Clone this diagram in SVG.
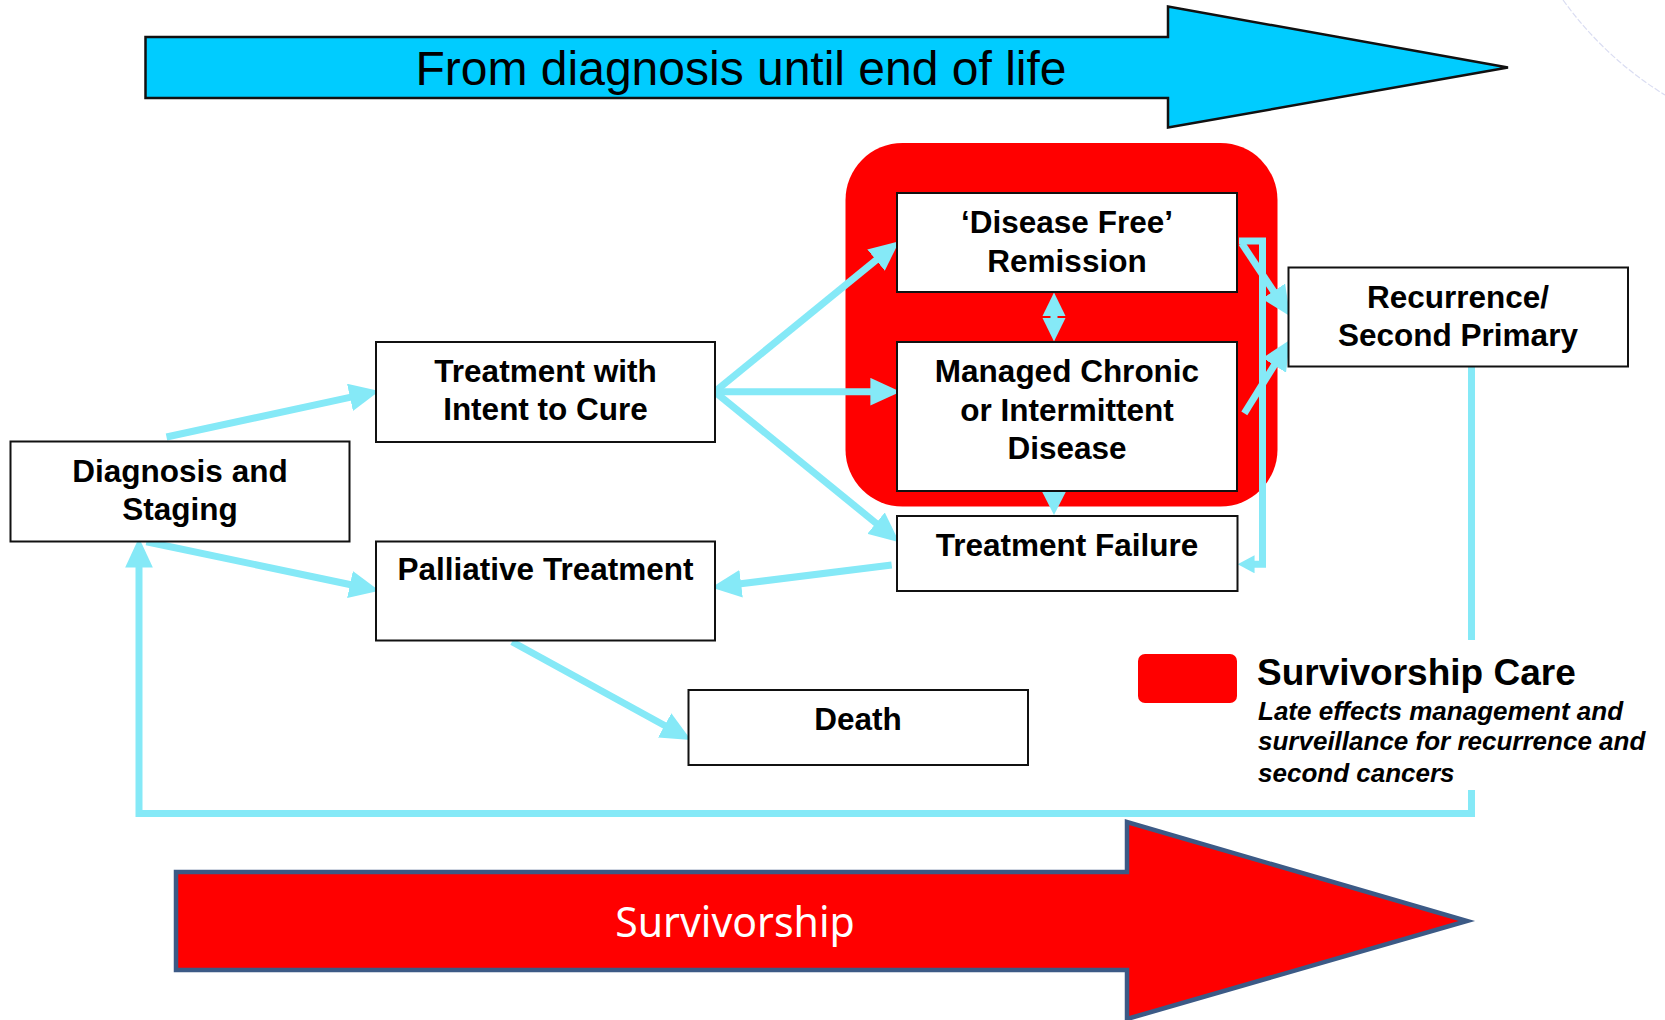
<svg xmlns="http://www.w3.org/2000/svg" width="1665" height="1020" viewBox="0 0 1665 1020">
<style>
  .box { fill: #ffffff; stroke: #111111; stroke-width: 2; }
  .lbl { font-family: "Liberation Sans", Arial, sans-serif; font-weight: bold; font-size: 31.5px; fill: #000000; text-anchor: middle; }
  .con { fill: none; stroke: #85E9F7; stroke-width: 7; stroke-linejoin: miter; }
  .head { fill: #85E9F7; }
</style>
<defs>
  <marker id="ah" markerUnits="userSpaceOnUse" markerWidth="30" markerHeight="28" viewBox="0 0 26 24" refX="4" refY="12" orient="auto">
    <path d="M0,0 L26,12 L0,24 z" fill="#85E9F7"/>
  </marker>
  <marker id="ahs" markerUnits="userSpaceOnUse" markerWidth="18" markerHeight="18" viewBox="0 0 15 16" refX="2" refY="8" orient="auto">
    <path d="M0,0 L15,8 L0,16 z" fill="#85E9F7"/>
  </marker>
</defs>

<rect width="1665" height="1020" fill="#ffffff"/>

<path d="M1563,0 Q1605,58 1665,95" fill="none" stroke="#DADDF2" stroke-width="1.2" stroke-dasharray="6,2"/>

<g id="top-arrow">
  <polygon points="145.5,37 1168,37 1168,6.5 1508,67.5 1168,127.5 1168,98 145.5,98" fill="#00CCFF" stroke="#111111" stroke-width="2.5"/>
  <text x="741" y="85" font-family="Liberation Sans, Arial, sans-serif" font-size="48" fill="#000000" text-anchor="middle">From diagnosis until end of life</text>
</g>

<g id="survivorship-care-region">
  <rect x="845.5" y="143" width="432" height="363.5" rx="57" ry="57" fill="#FF0000"/>
</g>

<g id="connectors">
  <line class="con" x1="166.5" y1="437" x2="354.5" y2="396.4" marker-end="url(#ah)"/>
  <line class="con" x1="146.4" y1="541.7" x2="354.5" y2="585.5" marker-end="url(#ah)"/>
  <line class="con" x1="714.7" y1="391.7" x2="879.6" y2="257.2" marker-end="url(#ah)"/>
  <line class="con" x1="714.7" y1="391.7" x2="875" y2="391.7" marker-end="url(#ah)"/>
  <line class="con" x1="714.7" y1="391.7" x2="879.6" y2="526.1" marker-end="url(#ah)"/>
  <line class="con" x1="891.7" y1="565" x2="736.5" y2="584.3" marker-end="url(#ah)"/>
  <line class="con" x1="512" y1="641.7" x2="668.7" y2="727.7" marker-end="url(#ah)"/>
  <line class="con" x1="1241.7" y1="243.3" x2="1276.1" y2="295" marker-end="url(#ah)"/>
  <line class="con" x1="1244.3" y1="413.3" x2="1276.7" y2="361.4" marker-end="url(#ah)"/>
  <polyline class="con" points="1239,241 1262.5,241 1262.5,564.3 1252.3,564.3" marker-end="url(#ahs)"/>
  <polyline class="con" points="1471.5,367 1471.5,813.5 139,813.5 139,563" marker-end="url(#ah)"/>
  <polygon class="head" points="1042.5,316 1054,292.5 1065.5,316"/>
  <polygon class="head" points="1042.5,318 1054,341.5 1065.5,318"/>
  <rect class="head" x="1050.5" y="315" width="7" height="4"/>
  <polygon class="head" points="1042,491.5 1066,491.5 1054,515"/>
</g>

<g id="node-diagnosis">
  <rect class="box" x="10.5" y="441.5" width="339" height="100"/>
  <text class="lbl" x="180" y="481.7">Diagnosis and</text>
  <text class="lbl" x="180" y="520">Staging</text>
</g>

<g id="node-treatment-cure">
  <rect class="box" x="376" y="342" width="339" height="100"/>
  <text class="lbl" x="545.5" y="382">Treatment with</text>
  <text class="lbl" x="545.5" y="420">Intent to Cure</text>
</g>

<g id="node-palliative">
  <rect class="box" x="376" y="541.5" width="339" height="99"/>
  <text class="lbl" x="545.5" y="580">Palliative Treatment</text>
</g>

<g id="node-death">
  <rect class="box" x="688.5" y="690" width="339.5" height="75"/>
  <text class="lbl" x="858" y="730">Death</text>
</g>

<g id="node-disease-free">
  <rect class="box" x="897" y="193" width="340" height="99"/>
  <text class="lbl" x="1067" y="233">‘Disease Free’</text>
  <text class="lbl" x="1067" y="272">Remission</text>
</g>

<g id="node-managed-chronic">
  <rect class="box" x="897" y="342" width="340" height="149"/>
  <text class="lbl" x="1067" y="382">Managed Chronic</text>
  <text class="lbl" x="1067" y="420.5">or Intermittent</text>
  <text class="lbl" x="1067" y="459">Disease</text>
</g>

<g id="node-treatment-failure">
  <rect class="box" x="897" y="516" width="340.5" height="75"/>
  <text class="lbl" x="1067" y="556">Treatment Failure</text>
</g>

<g id="node-recurrence">
  <rect class="box" x="1288.5" y="267.5" width="339.5" height="99"/>
  <text class="lbl" x="1458" y="307.5">Recurrence/</text>
  <text class="lbl" x="1458" y="346">Second Primary</text>
</g>

<g id="legend">
  <rect x="1250" y="640" width="412" height="150" fill="#ffffff"/>
  <rect x="1138" y="654" width="99" height="49" rx="7" ry="7" fill="#FF0000"/>
  <text x="1257" y="685" font-family="Liberation Sans, Arial, sans-serif" font-weight="bold" font-size="37" fill="#000000">Survivorship Care</text>
  <g font-family="Liberation Sans, Arial, sans-serif" font-weight="bold" font-style="italic" font-size="26" fill="#000000">
    <text x="1258" y="720">Late effects management and</text>
    <text x="1258" y="750">surveillance for recurrence and</text>
    <text x="1258" y="781.5">second cancers</text>
  </g>
</g>

<g id="bottom-arrow">
  <polygon points="176,872 1127,872 1127,822 1467,921 1127,1019 1127,970 176,970" fill="#FF0000" stroke="#3C5A86" stroke-width="4.5"/>
  <text x="735" y="937" font-family="Noto Sans, Open Sans, sans-serif" font-size="41" fill="#ffffff" text-anchor="middle">Survivorship</text>
</g>
</svg>
